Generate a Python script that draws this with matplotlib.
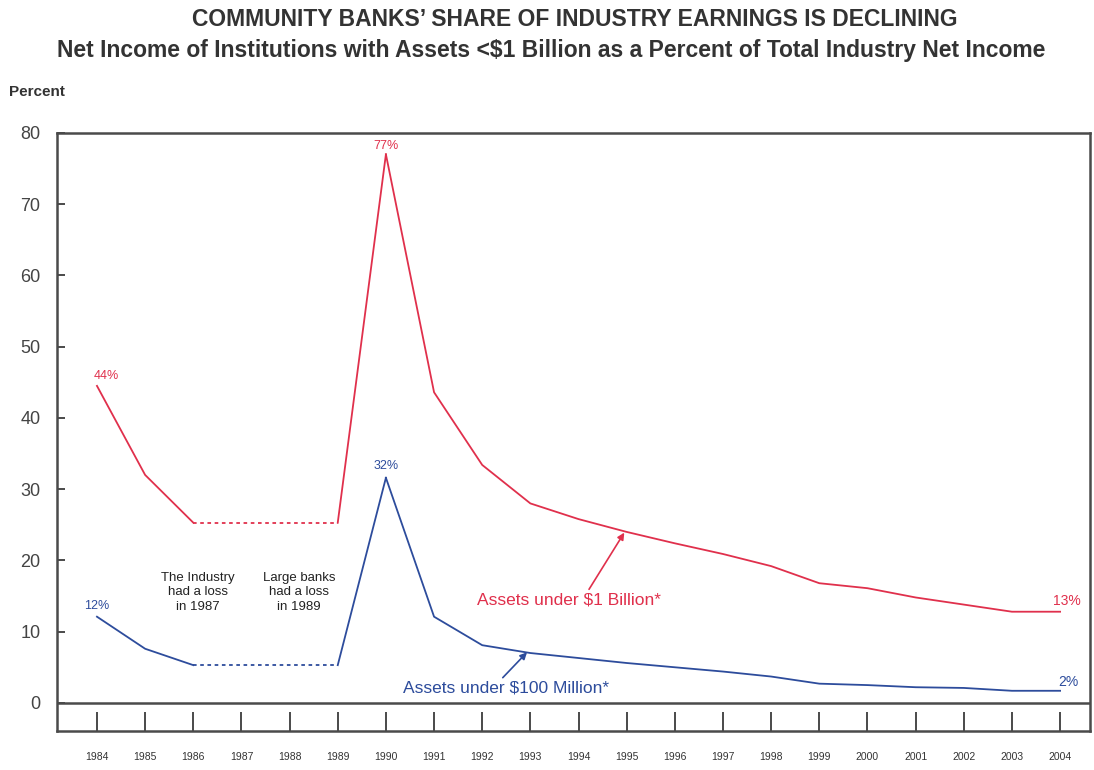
import matplotlib.pyplot as plt

plt.rcParams['font.family'] = ['Liberation Sans', 'DejaVu Sans']

# 数据
years_a = [1984, 1985, 1986]
years_b = [1990, 1991, 1992, 1993, 1994, 1995, 1996, 1997, 1998, 1999,
           2000, 2001, 2002, 2003, 2004]
gap_years = [1986, 1989, 1990]

red_a = [44.5, 32.0, 25.3]
red_gap = [25.3, 25.3, 77.0]
red_b = [77.0, 43.6, 33.4, 28.0, 25.8, 24.0, 22.4, 20.9, 19.2, 16.8,
         16.1, 14.8, 13.8, 12.8, 12.8]

blue_a = [12.1, 7.6, 5.3]
blue_gap = [5.3, 5.3, 31.6]
blue_b = [31.6, 12.1, 8.1, 7.0, 6.3, 5.6, 5.0, 4.4, 3.7, 2.7,
          2.5, 2.2, 2.1, 1.7, 1.7]

all_years = list(range(1984, 2005))
yticks = [0, 10, 20, 30, 40, 50, 60, 70, 80]

red = '#e0304c'
blue = '#2d4c9c'
frame = '#4a4a4a'

fig = plt.figure(figsize=(10.94, 7.7), dpi=100)
ax = fig.add_axes([0.0521, 0.0506, 0.9442, 0.7767])
ax.set_xlim(1983.17, 2004.62)
ax.set_ylim(-3.95, 80)

# 线条
ax.plot(years_a, red_a, color=red, lw=1.3)
ax.plot(gap_years[:2], red_gap[:2], color=red, lw=1.3, ls=(0, (2, 2)))
ax.plot(gap_years[1:], red_gap[1:], color=red, lw=1.3)
ax.plot(years_b, red_b, color=red, lw=1.3)

ax.plot(years_a, blue_a, color=blue, lw=1.3)
ax.plot(gap_years[:2], blue_gap[:2], color=blue, lw=1.3, ls=(0, (2, 2)))
ax.plot(gap_years[1:], blue_gap[1:], color=blue, lw=1.3)
ax.plot(years_b, blue_b, color=blue, lw=1.3)

# 零线和年份刻度
ax.axhline(0, color=frame, lw=1.8)
ax.vlines(all_years, -3.95, -1.3, color=frame, lw=1.4)

for s in ax.spines.values():
    s.set_color(frame)
    s.set_linewidth(1.8)

ax.set_xticks([])
ax.set_yticks(yticks)
ax.set_yticklabels([str(v) for v in yticks], fontsize=13, color='#444444')
ax.tick_params(axis='y', direction='in', length=6, width=1.4, color=frame, pad=12)

for y in all_years:
    ax.text(y, -7.6, str(y), ha='center', va='center', fontsize=7.5,
            color='#333333')

# 数值标注
ax.text(1984.2, 45.9, '44%', color=red, fontsize=9, ha='center', va='center')
ax.text(1990, 78.2, '77%', color=red, fontsize=9, ha='center', va='center')
ax.text(1990, 33.3, '32%', color=blue, fontsize=9, ha='center', va='center')
ax.text(1984, 13.6, '12%', color=blue, fontsize=9, ha='center', va='center')
ax.text(2004.15, 14.3, '13%', color=red, fontsize=10, ha='center', va='center')
ax.text(2004.17, 3.0, '2%', color=blue, fontsize=10, ha='center', va='center')

ax.text(1986.1, 15.5, 'The Industry\nhad a loss\nin 1987', fontsize=9.5,
        ha='center', va='center', linespacing=1.3, color='#222222')
ax.text(1988.2, 15.5, 'Large banks\nhad a loss\nin 1989', fontsize=9.5,
        ha='center', va='center', linespacing=1.3, color='#222222')

ax.annotate('Assets under $1 Billion*', xy=(1994.95, 23.9), xytext=(1993.8, 14.5),
            color=red, fontsize=12.5, ha='center', va='center',
            arrowprops=dict(arrowstyle='-|>', color=red, lw=1.2,
                            shrinkA=0, shrinkB=0, mutation_scale=10,
                            relpos=(0.6, 1.0)))
ax.annotate('Assets under $100 Million*', xy=(1992.93, 7.1), xytext=(1992.5, 2.1),
            color=blue, fontsize=12.5, ha='center', va='center',
            arrowprops=dict(arrowstyle='-|>', color=blue, lw=1.2,
                            shrinkA=0, shrinkB=0, mutation_scale=10,
                            relpos=(0.47, 1.0)))

# 标题
fig.text(0.525, 0.975, 'COMMUNITY BANKS\u2019 SHARE OF INDUSTRY EARNINGS IS DECLINING',
         ha='center', va='center', fontsize=16.5, fontweight='bold', color='#333333')
fig.text(0.504, 0.935, 'Net Income of Institutions with Assets <$1 Billion as a Percent of Total Industry Net Income',
         ha='center', va='center', fontsize=16.5, fontweight='bold', color='#333333')
fig.text(0.008, 0.88, 'Percent', ha='left', va='center', fontsize=11,
         fontweight='bold', color='#333333')

fig.savefig('out.png', dpi=100)
